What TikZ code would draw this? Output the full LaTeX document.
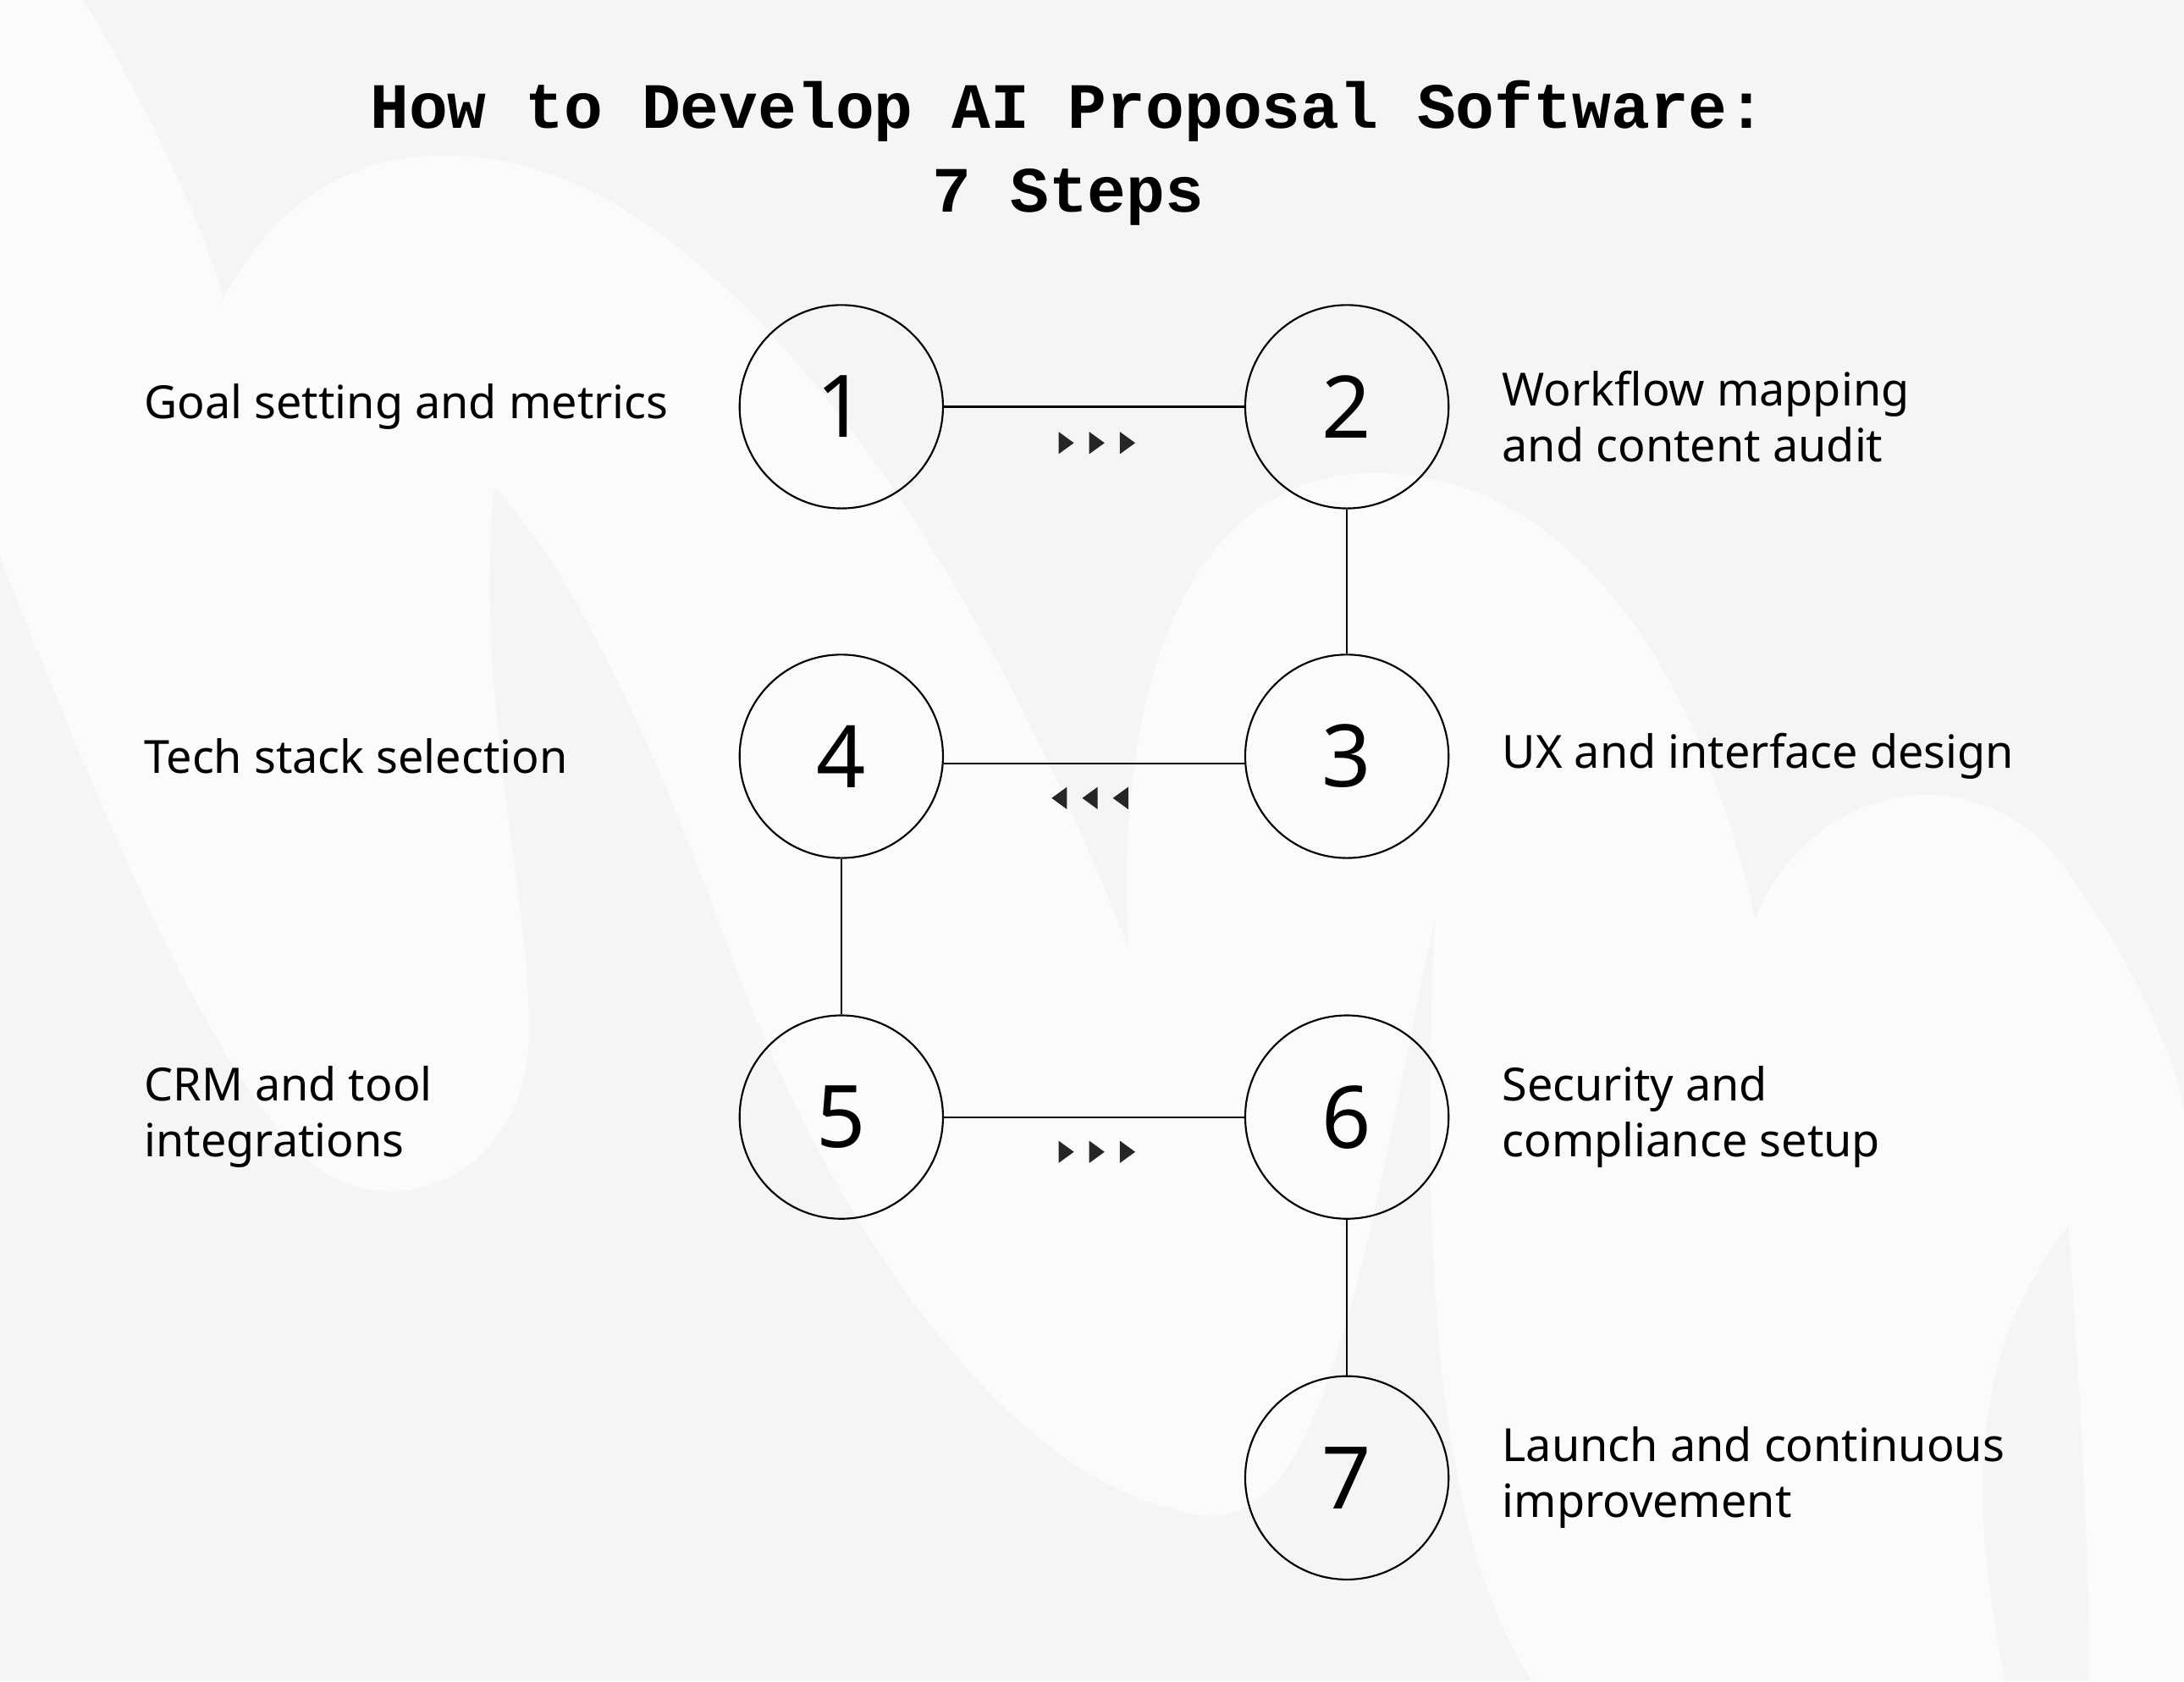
\documentclass[tikz,border=0pt]{standalone}
\usepackage{fontspec}
\setmainfont{Noto Sans}
\newfontfamily\titlefont{Liberation Mono}
\begin{document}
\begin{tikzpicture}[x=1pt,y=-1pt,
  stepcircle/.style={circle,draw=black,line width=1.3pt,fill=none,minimum size=146pt,inner sep=0pt,font=\fontsize{62}{62}\selectfont},
  conn/.style={line width=1.3pt,black},
  lbl/.style={anchor=west,align=left,font=\fontsize{32.8}{40}\selectfont},
  tri/.style={fill=black!85}]
\fill[fill={rgb,255:red,244;green,245;blue,247}] (0,0) rectangle (1568,1207);
\useasboundingbox (0,0) rectangle (1568,1207);
\begin{scope}[white,opacity=0.6]
\fill (0,0) -- (60,0) .. controls (120,100) and (160,200) .. (160,215) .. controls (220,100) and (330,90) .. (430,140) .. controls (560,210) and (700,400) .. (810,680) .. controls (800,500) and (850,330) .. (1000,340) .. controls (1150,350) and (1230,520) .. (1260,660) .. controls (1300,560) and (1420,540) .. (1480,620) .. controls (1540,700) and (1568,780) .. (1568,800) -- (1568,1207) -- (1500,1207) .. controls (1500,1100) and (1490,950) .. (1485,880) .. controls (1440,940) and (1400,1020) .. (1440,1207) -- (1100,1207) .. controls (1030,1100) and (1020,900) .. (1030,660) .. controls (980,900) and (950,1120) .. (850,1085) .. controls (720,1060) and (600,880) .. (530,700) .. controls (480,560) and (420,420) .. (355,350) .. controls (340,500) and (380,640) .. (380,740) .. controls (380,840) and (290,880) .. (230,840) .. controls (150,780) and (60,550) .. (0,400) -- cycle;
\end{scope}
\node[font=\titlefont\bfseries\fontsize{46.4}{60}\selectfont,align=center] (title) at (767,110) {How to Develop AI Proposal Software:\\7 Steps};
\node[stepcircle] (s1) at (604,292) {1};
\node[stepcircle] (s2) at (967,292) {2};
\node[stepcircle] (s3) at (967,543) {3};
\node[stepcircle] (s4) at (604,543) {4};
\node[stepcircle] (s5) at (604,802) {5};
\node[stepcircle] (s6) at (967,802) {6};
\node[stepcircle] (s7) at (967,1061) {7};
\draw[conn] (s1.east) -- (s2.west);
\draw[conn] (s2.south) -- (s3.north);
\path (s3.west) ++(0,5) coordinate (a3) (s4.east) ++(0,5) coordinate (a4);
\draw[conn] (a3) -- (a4);
\draw[conn] (s4.south) -- (s5.north);
\draw[conn] (s5.east) -- (s6.west);
\draw[conn] (s6.south) -- (s7.north);
\foreach \x in {765,787,809}{
  \fill[tri] (\x-5,310) -- (\x+6,318) -- (\x-5,326) -- cycle;
  \fill[tri] (\x-5,819) -- (\x+6,827) -- (\x-5,835) -- cycle;
}
\foreach \x in {760,782,804}{
  \fill[tri] (\x+6,565) -- (\x-5,573) -- (\x+6,581) -- cycle;
}
\node[lbl] (l1) at (100,292) {Goal setting and metrics};
\node[lbl] (l2) at (1075,299) {Workflow mapping\\and content audit};
\node[lbl] (l3) at (1075,543) {UX and interface design};
\node[lbl] (l4) at (100,543) {Tech stack selection};
\node[lbl] (l5) at (100,802) {CRM and tool\\integrations};
\node[lbl] (l6) at (1075,802) {Security and\\compliance setup};
\node[lbl] (l7) at (1075,1061) {Launch and continuous\\improvement};
\end{tikzpicture}
\end{document}
